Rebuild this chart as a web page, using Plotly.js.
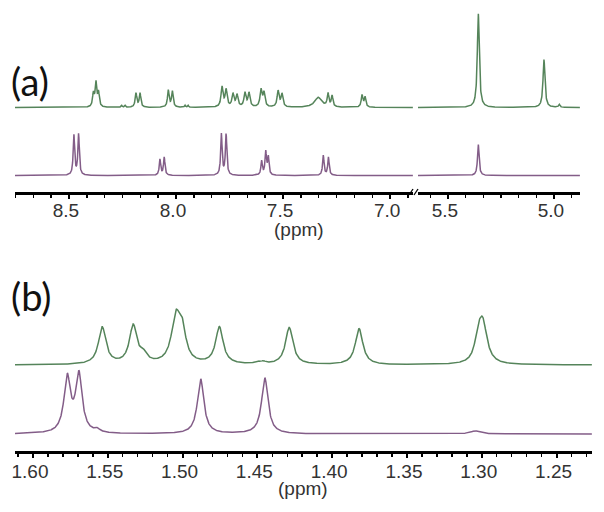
<!DOCTYPE html>
<html>
<head>
<meta charset="utf-8">
<script src="https://cdn.plot.ly/plotly-3.0.1.min.js"></script>
<style>html,body{margin:0;padding:0;background:#fff}#chart{width:604px;height:512px}</style>
</head>
<body>
<div id="chart"></div>
<script>
// ---------- data (ppm, peak height, peak width FWHM in ppm) ----------
// Panel (a), upper (green) spectrum
const aGreenPpm    = [8.386, 8.374, 8.362, 8.254, 8.238, 8.187, 8.168, 8.036, 8.017, 7.958, 7.944,
                      7.785, 7.766, 7.734, 7.715, 7.678, 7.659, 7.603, 7.589, 7.523, 7.505,
                      7.336, 7.290, 7.271, 7.131, 7.117, 5.357, 5.047, 4.975];
const aGreenHeight = [13, 24, 14, 2, 2, 14, 14, 17, 16, 2, 2,
                      20, 17, 13, 12, 14, 14, 17, 14, 16, 13,
                      10, 13, 11, 12, 10, 94, 48, 3];
const aGreenWidth  = [0.009, 0.009, 0.009, 0.006, 0.006, 0.009, 0.009, 0.009, 0.009, 0.006, 0.006,
                      0.011, 0.011, 0.011, 0.011, 0.011, 0.011, 0.011, 0.011, 0.011, 0.011,
                      0.04, 0.009, 0.009, 0.009, 0.009, 0.011, 0.011, 0.008];
// Panel (a), lower (purple) spectrum
const aPurplePpm    = [8.477, 8.455, 8.075, 8.055, 7.788, 7.766, 7.600, 7.581, 7.569, 7.312, 7.288, 5.357];
const aPurpleHeight = [40, 41, 16, 18, 41, 41, 14, 23, 18, 20, 18, 31];
const aPurpleWidth  = [0.008, 0.008, 0.008, 0.008, 0.008, 0.008, 0.008, 0.008, 0.008, 0.008, 0.008, 0.009];
// Panel (b), upper (green) spectrum
const bGreenPpm    = [1.5537, 1.5330, 1.5262, 1.5045, 1.5003, 1.4754, 1.4500, 1.4460, 1.4287, 1.3820, 1.3025, 1.2994];
const bGreenHeight = [37, 38, 8, 44, 29, 37, 2, 2, 37, 36, 18, 41];
const bGreenWidth  = [0.006, 0.006, 0.006, 0.007, 0.006, 0.006, 0.004, 0.004, 0.006, 0.006, 0.005, 0.007];
// Panel (b), lower (purple) spectrum
const bPurplePpm    = [1.5771, 1.5693, 1.5570, 1.4879, 1.4450, 1.3045];
const bPurpleHeight = [55, 58, 3, 55, 56, 3];
const bPurpleWidth  = [0.0052, 0.0052, 0.004, 0.0052, 0.0052, 0.008];

// axis tick labels
const aLeftTicks  = [8.5, 8.0, 7.5, 7.0];
const aRightTicks = [5.5, 5.0];
const bTicks      = [1.60, 1.55, 1.50, 1.45, 1.40, 1.35, 1.30, 1.25];

// ---------- build line shapes from the peak lists (Lorentzian line shape) ----------
function spectrum(ppm, h, w, lo, hi, step, base) {
  const xs = [], ys = [];
  for (let x = hi; x >= lo - 1e-9; x -= step) {
    let y = base;
    for (let i = 0; i < ppm.length; i++) {
      const g = w[i] / 2, d = x - ppm[i];
      y += h[i] * g * g / (d * d + g * g);
    }
    xs.push(x); ys.push(y);
  }
  return {x: xs, y: ys};
}

const GREEN = '#55845a', PURPLE = '#835d88';
const aL = [6.893, 8.752], aR = [4.877, 5.6415], bR = [1.2263, 1.612];

const traces = [];
function add(ppm, h, w, rng, step, base, color, xa, ya) {
  const s = spectrum(ppm, h, w, rng[0], rng[1], step, base);
  traces.push({x: s.x, y: s.y, xaxis: xa, yaxis: ya, type: 'scatter', mode: 'lines',
               line: {color: color, width: 1.5}, hoverinfo: 'skip', showlegend: false});
}
add(aGreenPpm, aGreenHeight, aGreenWidth, aL, 0.0008, 84.5, GREEN, 'x', 'y');
add(aGreenPpm, aGreenHeight, aGreenWidth, aR, 0.0008, 84.5, GREEN, 'x2', 'y');
add(aPurplePpm, aPurpleHeight, aPurpleWidth, aL, 0.0008, 16.5, PURPLE, 'x', 'y');
add(aPurplePpm, aPurpleHeight, aPurpleWidth, aR, 0.0008, 16.5, PURPLE, 'x2', 'y');
add(bGreenPpm, bGreenHeight, bGreenWidth, bR, 0.0002, 86, GREEN, 'x3', 'y2');
add(bPurplePpm, bPurpleHeight, bPurpleWidth, bR, 0.0002, 17, PURPLE, 'x3', 'y2');

const W = 604, H = 512;
const px = v => v / W, py = v => 1 - v / H;
const tickFont = {family: 'Liberation Sans, Arial, sans-serif', size: 19, color: '#333'};
function xax(domain, range, vals, text, minorDtick, anchor, standoff) {
  return {domain: domain, range: range, anchor: anchor, showgrid: false, zeroline: false,
          showline: true, linecolor: '#000', linewidth: 2.5,
          ticks: 'outside', ticklen: 4, tickwidth: 2, tickcolor: '#000',
          tickmode: 'array', tickvals: vals, ticktext: text,
          tickfont: tickFont, ticklabelshift: 3, ticklabelstandoff: standoff,
          minor: {dtick: minorDtick, tick0: vals[0], ticks: 'outside', ticklen: 3, tickwidth: 1.5, tickcolor: '#000'}};
}
const layout = {
  width: W, height: H, margin: {l: 0, r: 0, t: 0, b: 0},
  paper_bgcolor: '#fff', plot_bgcolor: 'rgba(0,0,0,0)', showlegend: false,
  xaxis:  xax([px(15), px(413)], [aL[1], aL[0]], aLeftTicks, aLeftTicks.map(v => v.toFixed(1)), 0.5 / 6, 'y', -4),
  xaxis2: xax([px(418), px(580)], [aR[1], aR[0]], aRightTicks, aRightTicks.map(v => v.toFixed(1)), 0.5 / 6, 'y', -4),
  xaxis3: xax([px(15), px(592)], [bR[1], bR[0]], bTicks, bTicks.map(v => v.toFixed(2)), 0.01, 'y2', -2),
  yaxis:  {domain: [py(192), 1], range: [0, 192], visible: false, fixedrange: true},
  yaxis2: {domain: [py(451), py(260)], range: [0, 191], visible: false, fixedrange: true},
  annotations: [
    {text: '(a)', xref: 'paper', yref: 'paper', x: px(9), y: py(81), xanchor: 'left', yanchor: 'middle',
     showarrow: false, font: {family: 'Lato, sans-serif', size: 38, color: '#111'}},
    {text: '(b)', xref: 'paper', yref: 'paper', x: px(9), y: py(296), xanchor: 'left', yanchor: 'middle',
     showarrow: false, font: {family: 'Lato, sans-serif', size: 38, color: '#111'}},
    {text: '(ppm)', xref: 'paper', yref: 'paper', x: px(299), y: py(229), xanchor: 'center', yanchor: 'middle',
     showarrow: false, font: {family: 'Liberation Sans, Arial, sans-serif', size: 19, color: '#333'}},
    {text: '(ppm)', xref: 'paper', yref: 'paper', x: px(303), y: py(488), xanchor: 'center', yanchor: 'middle',
     showarrow: false, font: {family: 'Liberation Sans, Arial, sans-serif', size: 19, color: '#333'}}
  ],
  shapes: [
    {type: 'line', xref: 'paper', yref: 'paper', x0: px(409), y0: py(195), x1: px(413), y1: py(189), line: {color: '#000', width: 1.3}},
    {type: 'line', xref: 'paper', yref: 'paper', x0: px(414), y0: py(195), x1: px(418), y1: py(189), line: {color: '#000', width: 1.3}}
  ]
};

Plotly.newPlot('chart', traces, layout, {staticPlot: true, displayModeBar: false});
</script>
</body>
</html>
